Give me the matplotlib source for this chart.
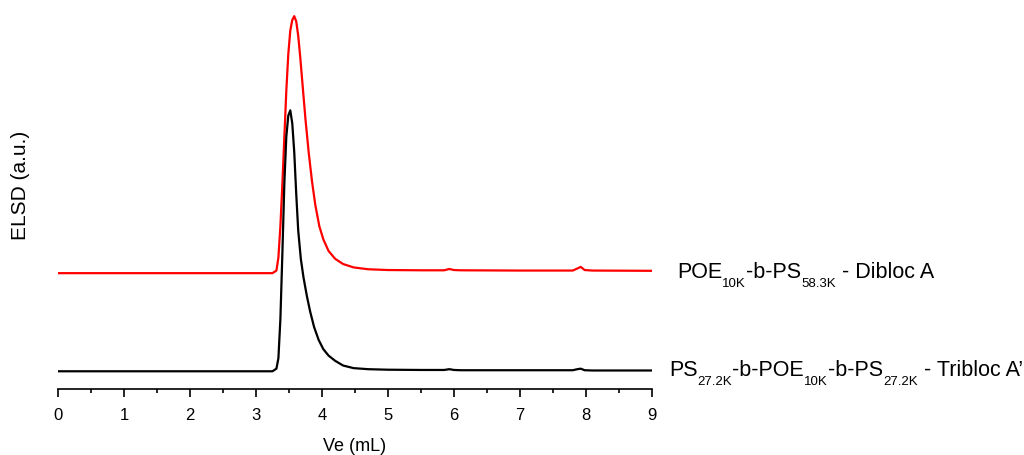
import numpy as np
import matplotlib.pyplot as plt

plt.rcParams['font.family'] = 'Liberation Sans'

# elution volume (mL) and ELSD response, diblock
ve_dibloc = [0.0, 1.0, 2.0, 3.0, 3.25, 3.31, 3.34, 3.37, 3.40, 3.43, 3.46, 3.49, 3.52,
             3.55, 3.58, 3.61, 3.64, 3.67, 3.71, 3.75, 3.80, 3.85, 3.90, 3.96, 4.02,
             4.10, 4.20, 4.32, 4.48, 4.70, 5.00, 5.50, 5.85, 5.93, 6.00, 6.10, 7.00,
             7.80, 7.87, 7.92, 7.98, 8.10, 9.0]
elsd_dibloc = [0.0, 0.0, 0.0, 0.0, 0.0, 0.01, 0.06, 0.18, 0.34, 0.52, 0.70, 0.84, 0.93,
               0.97, 0.985, 0.965, 0.91, 0.83, 0.71, 0.59, 0.46, 0.35, 0.26, 0.18, 0.13,
               0.085, 0.055, 0.035, 0.022, 0.015, 0.012, 0.011, 0.011, 0.016, 0.012, 0.011, 0.010,
               0.010, 0.018, 0.024, 0.012, 0.010, 0.009]

# triblock
ve_tribloc = [0.0, 1.0, 2.0, 3.0, 3.25, 3.31, 3.34, 3.37, 3.40, 3.43, 3.46, 3.49, 3.52,
              3.55, 3.58, 3.61, 3.64, 3.68, 3.72, 3.77, 3.82, 3.88, 3.95, 4.02, 4.10,
              4.20, 4.32, 4.48, 4.70, 5.00, 5.50, 5.85, 5.93, 6.00, 6.10, 7.00, 7.80,
              7.87, 7.92, 7.98, 8.10, 9.0]
elsd_tribloc = [0.0, 0.0, 0.0, 0.0, 0.0, 0.01, 0.05, 0.20, 0.45, 0.72, 0.90, 0.98, 1.0,
                0.95, 0.84, 0.68, 0.54, 0.43, 0.36, 0.29, 0.23, 0.17, 0.12, 0.085, 0.06,
                0.04, 0.022, 0.012, 0.008, 0.006, 0.005, 0.005, 0.008, 0.005, 0.004, 0.004, 0.004,
                0.008, 0.010, 0.004, 0.003, 0.003]

offset_dibloc = 0.376

# sample names as (text, is_subscript) pieces
label_dibloc = [('POE', False), ('10K', True), ('-b-PS', False), ('58.3K', True),
                (' - Dibloc A', False)]
label_tribloc = [('PS', False), ('27.2K', True), ('-b-POE', False), ('10K', True),
                 ('-b-PS', False), ('27.2K', True), (' - Tribloc A’', False)]


def draw_label(ax, x, y, pieces, size=15.5, sub_size=9.5, drop=3.7, sub_drop=9):
    # lay the pieces out one after the other, subscripts smaller and lowered
    renderer = ax.figure.canvas.get_renderer()
    dx = 0
    for text, sub in pieces:
        t = ax.annotate(text, (x, y), xytext=(dx, -drop - (sub_drop if sub else 0)),
                        textcoords='offset pixels', fontsize=sub_size if sub else size,
                        ha='left', va='baseline', annotation_clip=False)
        dx += t.get_window_extent(renderer).width


fig = plt.figure(figsize=(10.24, 4.56), dpi=100)
ax = fig.add_axes([0.0566, 0.1447, 0.5801, 0.84])

ax.plot(ve_dibloc, np.array(elsd_dibloc) + offset_dibloc, color='red', lw=1.6)
ax.plot(ve_tribloc, elsd_tribloc, color='black', lw=1.6)

ax.set_xlim(0, 9)
ax.set_ylim(-0.068, 1.40)
for s in ['top', 'right', 'left']:
    ax.spines[s].set_visible(False)
ax.spines['bottom'].set_linewidth(1.2)
ax.set_yticks([])
ax.set_xticks(range(10))
ax.set_xticks(np.arange(0.5, 9, 1), minor=True)
ax.tick_params(axis='x', which='major', length=6, width=1.2, labelsize=12, pad=7)
ax.tick_params(axis='x', which='minor', length=3, width=1.2)
ax.set_xlabel('Ve (mL)', fontsize=13, labelpad=11)
ax.set_ylabel('ELSD (a.u.)', fontsize=15)
ax.yaxis.set_label_coords(-0.047, 0.534)

draw_label(ax, 9.38, offset_dibloc, label_dibloc)
draw_label(ax, 9.26, 0.0, label_tribloc)

fig.savefig('out.png', dpi=100)
